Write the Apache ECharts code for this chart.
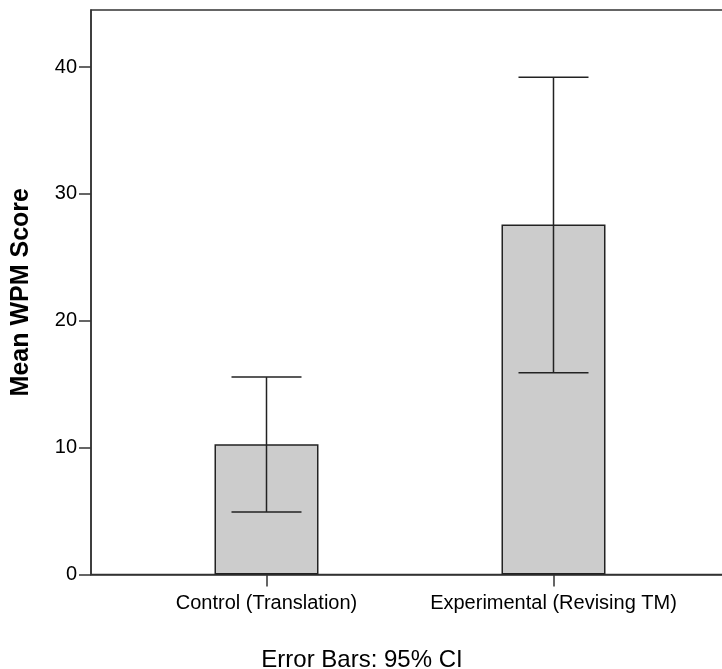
<!DOCTYPE html>
<html>
<head>
<meta charset="utf-8">
<script src="https://cdn.jsdelivr.net/npm/echarts@6/dist/echarts.min.js"></script>
<style>
  html, body { margin: 0; padding: 0; background: #fff; }
  #chart { width: 722px; height: 669px; }
</style>
</head>
<body>
<div id="chart"></div>
<script>
// data
var categories = ["Control (Translation)", "Experimental (Revising TM)"];
var meanScores = [10.27, 27.6];
var ciLower = [4.93, 15.9];
var ciUpper = [15.56, 39.2];
var yTicks = [0, 10, 20, 30, 40];

// x positions: category index on a value axis (SPSS leaves uneven margins)
var barData = categories.map(function (c, i) { return [i, meanScores[i]]; });
var errorData = categories.map(function (c, i) {
  return [i, ciLower[i], ciUpper[i]];
});

var chart = echarts.init(document.getElementById("chart"));

var option = {
  backgroundColor: "#fff",
  animation: false,
  textStyle: { fontFamily: "Liberation Sans, Arial, sans-serif" },
  title: {
    text: "Error Bars: 95% CI",
    left: 357,
    top: 643,
    textAlign: "center",
    textStyle: {
      fontFamily: "Liberation Sans, Arial, sans-serif",
      fontSize: 24,
      fontWeight: "normal",
      color: "#000"
    }
  },
  grid: {
    left: 91,
    top: 10,
    width: 640,
    bottom: 94.5,
    outerBoundsMode: "none",
    containLabel: false,
    show: true,
    borderColor: "#333",
    borderWidth: 1.5
  },
  xAxis: {
    type: "value",
    min: -0.6115,
    max: 1.6185,
    splitLine: { show: false },
    axisLine: { onZero: false, lineStyle: { color: "#333", width: 1.5 } },
    axisTick: {
      show: true,
      customValues: [0, 1],
      length: 12,
      lineStyle: { color: "#333", width: 1.5 }
    },
    axisLabel: {
      customValues: [0, 1],
      margin: 19,
      fontSize: 20,
      color: "#000",
      formatter: function (v) {
        return categories[Math.round(v)] || "";
      }
    }
  },
  yAxis: {
    type: "value",
    min: 0,
    max: 44.5,
    interval: 10,
    name: "Mean WPM Score",
    nameLocation: "middle",
    nameGap: 57,
    nameTextStyle: {
      fontSize: 25,
      fontWeight: "bold",
      color: "#000"
    },
    axisLine: { show: true, onZero: false, lineStyle: { color: "#333", width: 1.5 } },
    axisTick: { show: true, length: 12, lineStyle: { color: "#333", width: 1.5 } },
    splitLine: { show: false },
    axisLabel: {
      margin: 14,
      fontSize: 20,
      color: "#000",
      showMaxLabel: false,
      formatter: function (v) {
        return yTicks.indexOf(v) >= 0 ? String(v) : "";
      }
    }
  },
  series: [
    {
      type: "bar",
      data: barData,
      barWidth: 104,
      itemStyle: {
        color: "#cccccc",
        borderColor: "#222",
        borderWidth: 1.5
      }
    },
    {
      type: "custom",
      data: errorData,
      z: 10,
      renderItem: function (params, api) {
        var x = api.value(0);
        var lo = api.coord([x, api.value(1)]);
        var hi = api.coord([x, api.value(2)]);
        var half = 35;
        var st = { stroke: "#222", lineWidth: 1.5 };
        return {
          type: "group",
          children: [
            { type: "line", shape: { x1: hi[0], y1: hi[1], x2: lo[0], y2: lo[1] }, style: st },
            { type: "line", shape: { x1: hi[0] - half, y1: hi[1], x2: hi[0] + half, y2: hi[1] }, style: st },
            { type: "line", shape: { x1: lo[0] - half, y1: lo[1], x2: lo[0] + half, y2: lo[1] }, style: st }
          ]
        };
      }
    }
  ]
};

chart.setOption(option);
</script>
</body>
</html>
